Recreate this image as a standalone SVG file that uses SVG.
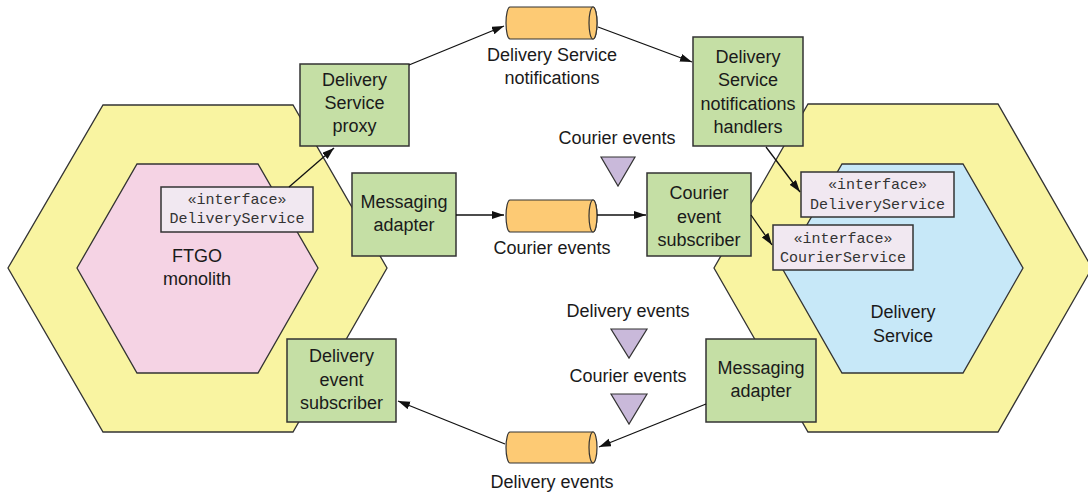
<svg xmlns="http://www.w3.org/2000/svg" width="1088" height="493" viewBox="0 0 1088 493">
<defs>
<style>
.hexo{fill:#f9f4a1;stroke:#333;stroke-width:1.3}
.pink{fill:#f5d3e4;stroke:#333;stroke-width:1.3}
.blue{fill:#c7e8f8;stroke:#333;stroke-width:1.3}
.box{fill:#c5dfa5;stroke:#333;stroke-width:1.5}
.ifc{fill:#f1e8f1;stroke:#333;stroke-width:1.5}
.cyl{fill:#fdca74;stroke:#333;stroke-width:1.2}
.tri{fill:#c9b9da;stroke:#333;stroke-width:1.2}
.t{font-family:"Liberation Sans",Arial,sans-serif;font-size:18px;fill:#1a1a1a;text-anchor:middle}
.m{font-family:"Liberation Mono","Courier New",monospace;font-size:15px;fill:#333;text-anchor:middle}
.c{fill:none;stroke:#111;stroke-width:1.3;marker-end:url(#ah)}
</style>
<marker id="ah" markerUnits="userSpaceOnUse" markerWidth="13" markerHeight="9" refX="12" refY="4" orient="auto">
<path d="M0,0 L12,4 L0,8 z" fill="#111"/>
</marker>
</defs>
<g id="ftgo-hex">
<polygon class="hexo" points="103,105 293,105 387,268 293,432 103,432 8,268"/>
<polygon class="pink" points="137,164 258,164 318,268 258,373 137,373 77,268"/>
<text class="t" x="197" y="262">FTGO</text>
<text class="t" x="197" y="285">monolith</text>
</g>
<g id="delivery-hex">
<polygon class="hexo" points="808,104 998,104 1092,268 998,432 808,432 714,268"/>
<polygon class="blue" points="842,164 963,164 1023,268 963,373 842,373 782,268"/>
<text class="t" x="903" y="318">Delivery</text>
<text class="t" x="903" y="342">Service</text>
</g>
<g id="ifc-left">
<rect class="ifc" x="161" y="187" width="152" height="45"/>
<text class="m" x="237" y="204">«interface»</text>
<text class="m" x="237" y="223">DeliveryService</text>
</g>
<g id="ifc-right-delivery">
<rect class="ifc" x="801" y="172" width="153" height="45"/>
<text class="m" x="877.5" y="189">«interface»</text>
<text class="m" x="877.5" y="209">DeliveryService</text>
</g>
<g id="ifc-right-courier">
<rect class="ifc" x="773" y="225" width="140" height="45"/>
<text class="m" x="843" y="243">«interface»</text>
<text class="m" x="843" y="262">CourierService</text>
</g>
<g id="proxy">
<rect class="box" x="300" y="64" width="109" height="82"/>
<text class="t" x="354.5" y="86">Delivery</text>
<text class="t" x="354.5" y="109">Service</text>
<text class="t" x="354.5" y="132">proxy</text>
</g>
<g id="msg-left">
<rect class="box" x="352" y="173" width="104" height="83"/>
<text class="t" x="404" y="208">Messaging</text>
<text class="t" x="404" y="231">adapter</text>
</g>
<g id="handlers">
<rect class="box" x="693" y="37" width="110" height="109"/>
<text class="t" x="748" y="63">Delivery</text>
<text class="t" x="748" y="86">Service</text>
<text class="t" x="748" y="110">notifications</text>
<text class="t" x="748" y="133">handlers</text>
</g>
<g id="courier-sub">
<rect class="box" x="647" y="173" width="104" height="83"/>
<text class="t" x="699" y="199">Courier</text>
<text class="t" x="699" y="223">event</text>
<text class="t" x="699" y="246">subscriber</text>
</g>
<g id="delivery-sub">
<rect class="box" x="287" y="339" width="109" height="83"/>
<text class="t" x="341.5" y="362">Delivery</text>
<text class="t" x="341.5" y="386">event</text>
<text class="t" x="341.5" y="409">subscriber</text>
</g>
<g id="msg-right">
<rect class="box" x="706" y="339" width="110" height="83"/>
<text class="t" x="761" y="374">Messaging</text>
<text class="t" x="761" y="397">adapter</text>
</g>
<g id="q-notifications">
<path class="cyl" d="M510,7 L593,7 A4,16 0 0 1 593,39 L510,39 A4,16 0 0 1 510,7 Z"/>
<ellipse class="cyl" cx="593" cy="23" rx="4" ry="16"/>
<text class="t" x="552" y="61">Delivery Service</text>
<text class="t" x="552" y="84">notifications</text>
</g>
<g id="q-courier">
<path class="cyl" d="M510,200 L593,200 A4,16 0 0 1 593,232 L510,232 A4,16 0 0 1 510,200 Z"/>
<ellipse class="cyl" cx="593" cy="216" rx="4" ry="16"/>
<text class="t" x="552" y="254">Courier events</text>
</g>
<g id="q-delivery">
<path class="cyl" d="M510,432 L593,432 A4,16 0 0 1 593,463 L510,463 A4,15.5 0 0 1 510,432 Z"/>
<ellipse class="cyl" cx="593" cy="447.5" rx="4" ry="15.5"/>
<text class="t" x="552" y="488">Delivery events</text>
</g>
<g id="ev-courier-top">
<text class="t" x="617" y="144">Courier events</text>
<polygon class="tri" points="601,157 635,157 618,186"/>
</g>
<g id="ev-delivery">
<text class="t" x="628" y="317">Delivery events</text>
<polygon class="tri" points="611,329 647,329 629,358"/>
</g>
<g id="ev-courier-bottom">
<text class="t" x="628" y="382">Courier events</text>
<polygon class="tri" points="611,394 647,394 629,424"/>
</g>
<g id="connectors">
<line class="c" x1="289" y1="187" x2="334" y2="148"/>
<line class="c" x1="409" y1="65" x2="504" y2="26"/>
<line class="c" x1="598" y1="27" x2="692" y2="62"/>
<line class="c" x1="766" y1="147" x2="800" y2="192"/>
<line class="c" x1="456" y1="215" x2="504" y2="215"/>
<line class="c" x1="597" y1="215" x2="646" y2="215"/>
<line class="c" x1="751" y1="215" x2="772" y2="245"/>
<line class="c" x1="706" y1="404" x2="599" y2="447"/>
<line class="c" x1="505" y1="444" x2="398" y2="401"/>
</g>
</svg>
